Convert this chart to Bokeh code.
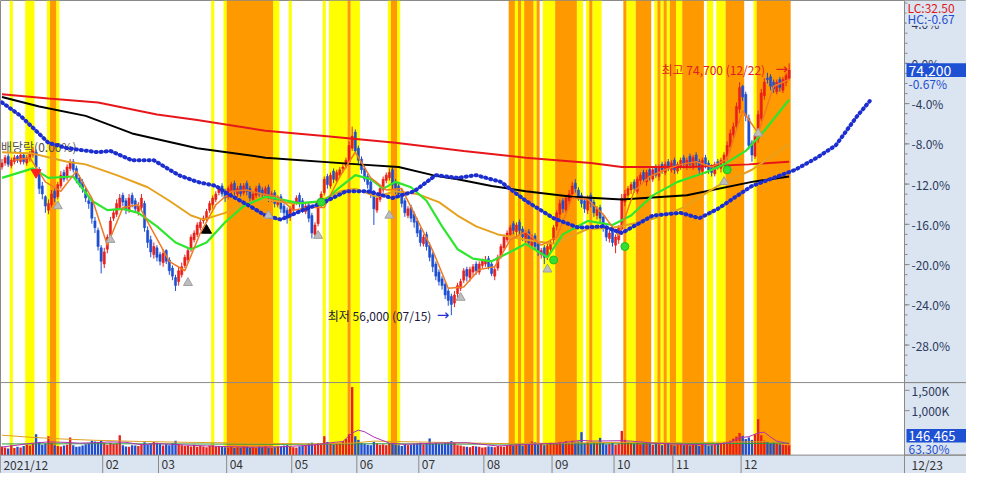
from bokeh.plotting import figure
from bokeh.models import Range1d, Span
from bokeh.core.properties import value
from bokeh.embed import file_html
from bokeh.resources import INLINE

FONT_NAME = "Noto Sans CJK KR"
FONT = value(FONT_NAME)

# ---------------- data (prices in thousand won, volume in thousand shares) ----------------
month_labels = ["2021/12", "02", "03", "04", "05", "06", "07", "08", "09", "10", "11", "12"]
month_first_day = [0, 33, 51, 73, 94, 115, 135, 156, 178, 198, 217, 239]

open_k = [
    67.0, 67.3, 67.8, 67.1, 67.4, 67.8, 67.4, 67.9, 67.3, 67.6,
    67.9, 68.1, 66.8, 65.6, 64.8, 63.8, 64.2, 65.2, 64.8, 65.6,
    66.6, 66.2, 66.9, 67.4, 66.9, 66.2, 65.9, 65.3, 64.5, 64.4,
    63.0, 62.3, 61.0, 59.8, 60.9, 61.9, 63.2, 63.5, 64.0, 64.9,
    64.5, 63.8, 64.9, 64.5, 63.7, 64.0, 64.3, 62.3, 61.6, 60.5,
    61.0, 60.5, 59.9, 60.8, 60.1, 59.5, 58.8, 58.5, 59.0, 59.7,
    60.1, 60.9, 61.6, 62.0, 62.5, 63.0, 63.1, 63.8, 64.2, 64.6,
    65.1, 65.6, 65.2, 64.8, 65.2, 65.8, 65.0, 65.6, 65.1, 65.8,
    65.4, 64.6, 64.9, 65.6, 65.3, 64.9, 65.5, 64.6, 65.1, 64.2,
    64.8, 64.1, 63.8, 63.3, 63.8, 64.4, 64.9, 64.5, 63.7, 64.2,
    63.4, 62.0, 62.8, 64.2, 65.1, 66.3, 65.6, 66.7, 66.0, 66.4,
    66.9, 67.1, 67.4, 68.4, 69.6, 68.4, 67.6, 66.9, 66.3, 65.9,
    65.1, 63.8, 64.6, 65.3, 66.0, 66.2, 66.8, 65.9, 65.6, 65.2,
    64.5, 63.4, 64.0, 63.5, 63.0, 62.3, 61.3, 62.0, 61.2, 60.5,
    59.8, 59.2, 58.7, 58.3, 57.8, 57.4, 56.9, 57.6, 58.0, 58.6,
    59.4, 58.8, 59.2, 59.8, 59.2, 59.7, 59.8, 60.2, 59.8, 58.9,
    59.5, 60.4, 61.0, 61.6, 62.0, 62.8, 62.2, 62.9, 62.4, 61.7,
    62.2, 61.2, 61.9, 61.3, 60.5, 61.0, 60.4, 60.9, 61.6, 62.6,
    63.5, 64.5, 63.8, 64.5, 65.0, 65.8, 65.3, 64.9, 64.5, 63.8,
    64.9, 64.4, 63.4, 64.0, 63.3, 62.6, 61.7, 62.3, 61.2, 61.6,
    62.4, 64.4, 64.9, 65.3, 65.9, 65.2, 66.0, 66.6, 65.9, 66.8,
    66.1, 67.0, 66.3, 67.2, 66.6, 67.4, 66.8, 67.5, 66.7, 67.0,
    67.7, 67.0, 67.8, 67.0, 67.9, 67.4, 66.7, 67.7, 67.3, 67.0,
    66.5, 67.4, 66.9, 67.3, 67.8, 68.5, 69.4, 70.0, 71.3, 73.0,
    72.4, 70.6, 68.8, 67.8, 69.1, 70.6, 72.3, 73.6, 73.7, 73.3,
    72.6, 73.5, 72.7, 73.3, 73.6,
]
high_k = [
    67.6, 67.9, 68.0, 67.7, 67.9, 67.9, 68.1, 68.0, 67.9, 68.2,
    68.5, 68.3, 67.0, 65.9, 64.9, 64.6, 65.3, 65.4, 65.9, 66.7,
    66.8, 67.2, 67.6, 67.6, 67.1, 66.4, 66.1, 65.5, 64.8, 64.6,
    63.3, 62.5, 61.2, 61.0, 62.0, 63.3, 63.9, 64.6, 65.0, 65.1,
    64.7, 65.0, 65.1, 64.7, 64.4, 65.0, 64.5, 62.6, 61.9, 61.4,
    61.2, 60.7, 60.9, 60.9, 60.3, 59.7, 59.0, 59.6, 59.9, 60.5,
    61.0, 62.0, 62.3, 62.9, 63.2, 63.4, 63.9, 64.5, 64.9, 65.2,
    65.6, 65.8, 65.4, 65.6, 65.9, 66.0, 65.6, 65.8, 65.8, 66.0,
    65.6, 65.2, 65.6, 65.8, 65.5, 65.6, 65.7, 65.2, 65.3, 64.9,
    65.0, 64.3, 64.0, 64.1, 64.5, 64.9, 65.1, 64.7, 64.3, 64.4,
    63.6, 62.9, 64.5, 65.2, 66.3, 66.5, 66.6, 66.9, 66.8, 67.0,
    67.2, 67.7, 68.9, 70.0, 69.8, 68.6, 67.8, 67.1, 66.5, 66.1,
    65.3, 64.9, 65.6, 66.3, 66.6, 66.9, 67.0, 66.1, 65.8, 65.4,
    64.7, 64.1, 64.2, 63.7, 63.2, 62.5, 62.0, 62.2, 61.4, 60.7,
    60.0, 59.4, 58.9, 58.5, 58.0, 57.6, 57.8, 58.4, 58.7, 59.5,
    59.6, 59.6, 59.8, 60.0, 60.0, 60.2, 60.4, 60.4, 60.0, 59.6,
    60.5, 61.3, 62.0, 62.3, 62.7, 63.0, 62.9, 63.1, 62.6, 62.3,
    62.4, 62.0, 62.1, 61.5, 61.0, 61.2, 61.3, 61.6, 62.7, 63.8,
    64.6, 64.7, 64.9, 65.3, 65.9, 66.1, 65.5, 65.1, 64.7, 64.9,
    65.1, 64.6, 64.1, 64.2, 63.5, 62.8, 62.3, 62.6, 62.0, 62.7,
    65.0, 65.3, 65.6, 65.9, 66.1, 66.3, 66.6, 66.8, 66.8, 67.0,
    67.0, 67.2, 67.2, 67.4, 67.4, 67.6, 67.5, 67.7, 67.4, 67.7,
    67.9, 67.7, 68.0, 67.9, 68.1, 67.6, 67.7, 67.9, 67.5, 67.2,
    67.4, 67.6, 67.7, 68.1, 68.9, 69.8, 70.3, 71.8, 73.3, 73.1,
    72.6, 70.9, 69.0, 69.5, 71.2, 72.8, 73.6, 74.0, 73.9, 73.5,
    73.5, 73.7, 73.7, 74.0, 74.7,
]
low_k = [
    66.8, 67.1, 67.0, 66.9, 67.2, 67.3, 67.2, 67.2, 67.1, 67.4,
    67.7, 66.8, 65.0, 64.6, 63.6, 63.5, 64.0, 64.4, 64.6, 65.4,
    65.9, 66.0, 66.7, 66.6, 65.8, 65.5, 65.1, 64.4, 63.9, 62.8,
    62.1, 60.8, 59.1, 59.5, 60.6, 61.6, 63.0, 63.3, 63.8, 64.1,
    63.5, 63.6, 64.0, 63.6, 63.4, 63.8, 62.2, 61.0, 60.3, 60.2,
    60.0, 59.7, 59.6, 59.8, 59.0, 58.6, 57.8, 58.2, 58.8, 59.5,
    59.9, 60.7, 61.4, 61.8, 62.3, 62.8, 62.9, 63.6, 63.9, 64.4,
    64.9, 64.8, 64.4, 64.6, 65.0, 64.9, 64.8, 64.8, 64.9, 64.9,
    64.4, 64.4, 64.7, 64.8, 64.7, 64.7, 64.4, 64.4, 64.0, 64.0,
    63.6, 63.3, 62.8, 63.0, 63.6, 64.2, 64.0, 63.6, 63.5, 62.9,
    61.7, 61.8, 62.6, 64.0, 64.9, 65.4, 65.4, 65.8, 65.8, 66.2,
    66.6, 66.9, 67.2, 68.2, 68.0, 67.2, 66.5, 65.9, 65.4, 64.7,
    62.7, 63.6, 64.4, 65.1, 65.8, 66.0, 65.3, 65.0, 64.7, 64.0,
    63.3, 63.2, 62.9, 62.5, 61.8, 61.1, 61.1, 60.8, 60.0, 59.2,
    58.6, 58.2, 57.9, 57.2, 56.7, 56.0, 56.6, 57.3, 57.8, 58.4,
    58.5, 58.5, 58.9, 59.0, 59.0, 59.5, 59.6, 59.4, 58.9, 58.6,
    59.3, 60.2, 60.8, 61.4, 61.8, 62.0, 61.9, 62.0, 61.5, 61.4,
    61.1, 61.0, 60.9, 60.4, 60.2, 59.8, 60.1, 60.6, 61.3, 62.3,
    63.2, 63.6, 63.6, 64.2, 64.7, 65.1, 64.5, 64.0, 63.6, 63.5,
    64.0, 63.3, 63.1, 62.9, 62.2, 61.5, 61.4, 61.1, 60.6, 61.3,
    62.2, 64.1, 64.7, 65.0, 65.1, 65.0, 65.7, 65.9, 65.6, 66.0,
    65.9, 66.2, 66.0, 66.5, 66.4, 66.7, 66.6, 66.5, 66.5, 66.8,
    66.9, 66.8, 66.9, 66.8, 67.0, 66.5, 66.4, 66.9, 66.5, 66.3,
    66.3, 66.8, 66.6, 67.1, 67.5, 68.2, 69.1, 69.8, 71.0, 71.9,
    70.4, 68.3, 67.4, 67.6, 68.8, 70.4, 72.0, 73.2, 72.7, 72.5,
    72.4, 72.6, 72.5, 73.0, 73.5,
]
close_k = [
    67.3, 67.7, 67.2, 67.5, 67.7, 67.5, 67.9, 67.4, 67.7, 68.0,
    68.2, 67.0, 65.4, 65.0, 64.1, 64.3, 65.0, 64.7, 65.7, 66.4,
    66.1, 67.0, 67.3, 66.8, 66.1, 65.7, 65.4, 64.7, 64.3, 63.2,
    62.5, 61.1, 60.0, 60.7, 61.8, 63.0, 63.6, 64.3, 64.7, 64.4,
    63.9, 64.7, 64.3, 63.9, 64.1, 64.7, 62.5, 61.4, 60.7, 61.1,
    60.3, 60.0, 60.6, 60.0, 59.3, 58.9, 58.2, 59.3, 59.6, 60.3,
    60.8, 61.8, 62.1, 62.7, 62.9, 63.2, 63.7, 64.3, 64.7, 65.0,
    65.4, 65.0, 64.7, 65.4, 65.7, 65.2, 65.4, 65.0, 65.6, 65.2,
    64.7, 65.0, 65.4, 65.0, 65.0, 65.4, 64.7, 65.0, 64.3, 64.7,
    63.9, 63.6, 63.2, 63.9, 64.3, 64.7, 64.3, 63.9, 64.1, 63.2,
    62.1, 62.7, 64.3, 65.0, 66.1, 65.7, 66.4, 66.1, 66.6, 66.8,
    67.0, 67.5, 68.6, 69.3, 68.2, 67.5, 66.8, 66.1, 65.7, 65.0,
    63.9, 64.7, 65.4, 66.1, 66.4, 66.6, 65.7, 65.4, 65.0, 64.3,
    63.6, 63.9, 63.2, 62.9, 62.1, 61.4, 61.8, 61.1, 60.3, 59.6,
    58.9, 58.5, 58.2, 57.5, 57.1, 56.8, 57.5, 58.2, 58.5, 59.3,
    58.9, 59.4, 59.6, 59.3, 59.8, 60.0, 60.1, 59.6, 59.1, 59.4,
    60.3, 61.1, 61.8, 62.1, 62.5, 62.3, 62.7, 62.3, 61.8, 62.1,
    61.4, 61.8, 61.1, 60.7, 60.8, 60.3, 61.1, 61.4, 62.5, 63.6,
    64.3, 63.9, 64.7, 65.0, 65.6, 65.4, 64.7, 64.3, 63.9, 64.7,
    64.3, 63.6, 63.9, 63.2, 62.5, 61.8, 62.1, 61.4, 61.8, 62.5,
    64.7, 65.0, 65.4, 65.7, 65.4, 66.1, 66.4, 66.1, 66.6, 66.3,
    66.8, 66.4, 67.0, 66.8, 67.2, 67.0, 67.3, 66.8, 67.2, 67.5,
    67.2, 67.5, 67.2, 67.7, 67.3, 66.8, 67.5, 67.2, 66.8, 66.6,
    67.2, 67.0, 67.5, 67.9, 68.6, 69.5, 70.0, 71.5, 72.9, 72.2,
    70.8, 68.6, 67.9, 69.3, 70.9, 72.5, 73.3, 73.5, 73.0, 72.8,
    73.3, 72.9, 73.5, 73.8, 74.2,
]
volume_k = [
    120, 90, 70, 150, 80, 110, 95, 130, 160, 140,
    180, 420, 230, 160, 190, 370, 210, 150, 130, 120,
    140, 160, 340, 150, 110, 120, 140, 170, 190, 260,
    240, 230, 270, 200, 160, 210, 180, 190, 395, 150,
    120, 110, 150, 140, 130, 170, 220, 160, 190, 230,
    210, 180, 140, 170, 150, 200, 260, 180, 150, 130,
    140, 120, 160, 110, 130, 120, 100, 140, 150, 120,
    130, 110, 100, 90, 110, 80, 100, 90, 120, 110,
    90, 100, 80, 110, 100, 120, 90, 80, 100, 110,
    120, 140, 150, 110, 100, 90, 120, 130, 150, 190,
    210, 160, 200, 180, 370, 230, 200, 170, 190, 210,
    250, 300, 420, 1580, 370, 280, 200, 180, 160, 150,
    230, 190, 160, 170, 150, 200, 180, 160, 150, 130,
    170, 150, 160, 180, 190, 210, 170, 200, 315, 180,
    210, 190, 180, 200, 230, 250, 210, 150, 140, 120,
    110, 100, 130, 120, 110, 90, 100, 120, 110, 100,
    130, 120, 110, 140, 150, 130, 160, 200, 140, 170,
    180, 240, 220, 160, 190, 150, 170, 210, 180, 200,
    230, 210, 250, 200, 260, 220, 240, 470, 200, 230,
    190, 220, 210, 330, 200, 170, 180, 200, 160, 190,
    500, 280, 230, 200, 190, 210, 170, 180, 200, 190,
    160, 180, 170, 150, 190, 200, 160, 140, 170, 180,
    150, 160, 140, 170, 150, 130, 160, 170, 140, 150,
    170, 190, 200, 220, 235, 260, 310, 360, 450, 380,
    300, 340, 280, 420, 790, 395, 260, 230, 200, 210,
    180, 170, 160, 150, 146.465,
]

# moving averages (day index, value)
ma5_day = list(range(4, 255, 5))
ma5 = [67.5, 67.7, 65.9, 65.2, 66.7, 64.7, 61.2, 64.0, 64.2, 62.1,
       60.0, 59.3, 62.1, 64.2, 65.2, 65.3, 65.0, 64.8, 63.8, 64.0,
       64.0, 66.3, 68.1, 66.2, 65.3, 65.4, 63.1, 60.8, 58.0, 58.1,
       59.4, 59.6, 61.6, 62.2, 61.2, 61.8, 64.7, 64.6, 63.5, 61.9,
       65.2, 66.3, 66.8, 67.2, 67.4, 67.0, 67.6, 71.2, 69.5, 73.0, 73.5]
ma20_day = [0, 10, 15, 23, 29, 34, 39, 44, 50, 56, 61, 66, 72, 78, 85, 90, 96, 104, 109, 114,
            119, 123, 127, 132, 137, 142, 147, 152, 158, 164, 169, 176, 181, 189, 197, 203, 210,
            218, 227, 233, 240, 246, 254]
ma20 = [66.2, 66.9, 66.2, 66.3, 64.5, 63.8, 63.9, 63.6, 62.6, 61.4, 60.9, 61.4, 62.9, 64.1, 64.8,
        64.6, 64.3, 64.5, 65.5, 66.4, 66.1, 65.4, 65.9, 65.5, 64.5, 62.6, 60.9, 60.2, 60.0, 60.7,
        61.3, 60.3, 62.0, 63.0, 62.7, 63.4, 64.9, 65.9, 66.6, 67.2, 68.2, 69.7, 72.0]
ma60_day = [0, 10, 21, 27, 37, 47, 54, 61, 65, 72, 78, 85, 94, 102, 109, 114, 121, 127, 134, 141,
            147, 153, 160, 169, 178, 189, 197, 208, 219, 231, 242, 254]
ma60 = [68.1, 68.0, 67.4, 67.2, 66.4, 65.5, 64.5, 63.4, 63.1, 63.6, 64.3, 64.6, 64.3, 64.4, 65.2,
        65.4, 64.8, 65.2, 65.0, 64.4, 63.4, 62.6, 62.0, 61.6, 61.3, 62.4, 62.5, 63.0, 63.9, 65.6,
        66.8, 68.7]
ma120_day = [0, 12, 27, 42, 63, 85, 115, 128, 139, 147, 158, 169, 184, 200, 221, 242, 254]
ma120 = [72.2, 71.5, 70.8, 69.5, 68.4, 67.7, 67.2, 67.0, 66.4, 66.1, 65.6, 65.2, 64.8, 64.6, 64.9,
         65.9, 66.3]
ma240_day = [0, 15, 31, 50, 63, 85, 104, 127, 149, 169, 190, 200, 222, 241, 254]
ma240 = [72.4, 72.1, 71.8, 70.9, 70.5, 69.7, 69.3, 68.8, 68.2, 67.7, 67.3, 67.0, 67.0, 67.2, 67.4]
lead_day = [0, 6, 15, 21, 31, 35, 42, 49, 57, 63, 69, 73, 80, 85, 90, 97, 104, 111, 118, 126,
            133, 140, 147, 153, 161, 169, 178, 186, 194, 200, 210, 219, 225, 231, 242, 256, 263,
            269, 276, 280]
lead = [71.8, 70.8, 68.8, 68.4, 68.1, 68.2, 67.5, 67.5, 66.4, 65.9, 65.6, 65.0, 64.1, 63.4, 63.1,
        63.8, 64.4, 65.2, 65.2, 64.7, 65.2, 66.4, 66.2, 66.4, 65.9, 64.5, 63.2, 62.5, 62.6, 62.1,
        63.4, 63.6, 63.2, 63.9, 65.6, 66.8, 67.7, 68.6, 70.8, 71.9]

vma_green_day = [0, 30, 60, 90, 120, 150, 180, 210, 240, 254]
vma_green = [180, 185, 180, 170, 185, 175, 180, 185, 190, 200]
vma_gold_day = [0, 10, 20, 30, 45, 60, 80, 100, 113, 120, 140, 160, 180, 200, 220, 240, 254]
vma_gold = [395, 340, 300, 270, 240, 220, 200, 180, 200, 250, 220, 190, 200, 220, 210, 230, 240]
vma_purple_day = [0, 5, 10, 15, 20, 25, 30, 35, 40, 45, 50, 55, 60, 70, 80, 90, 100, 105, 110,
                  113, 115, 117, 120, 125, 130, 140, 150, 160, 170, 180, 187, 190, 200, 203, 210,
                  220, 230, 235, 238, 241, 244, 246, 248, 250, 254]
vma_purple = [105, 150, 200, 230, 220, 200, 210, 230, 220, 160, 190, 170, 150, 120, 100, 110, 150,
              200, 240, 450, 520, 480, 350, 200, 170, 200, 210, 130, 170, 200, 270, 250, 260, 250,
              200, 170, 160, 220, 330, 360, 450, 470, 350, 250, 180]

# highlighted trading days (first day, last day)
yellow_from = [3, 8, 15, 18, 68, 72, 88, 93, 104, 106, 113, 125, 128, 166, 168, 172, 175, 186,
               189, 191, 202, 211, 213, 215, 218, 228, 231, 243]
yellow_to = [3, 10, 15, 18, 68, 72, 89, 93, 104, 111, 115, 125, 128, 166, 168, 172, 178, 187,
             189, 193, 204, 211, 213, 215, 219, 229, 233, 243]
orange_from = [16, 73, 112, 126, 164, 167, 169, 173, 179, 190, 201, 205, 212, 214, 216, 220, 234, 244]
orange_to = [17, 87, 112, 127, 165, 167, 171, 173, 185, 190, 201, 209, 212, 214, 217, 226, 239, 254]

# signal marks (day index, price)
sig_gray_day = [18, 35, 60, 86, 102, 125, 148, 176, 233, 244]
sig_gray_price = [64.1, 61.6, 58.4, 63.4, 61.9, 63.4, 57.3, 59.4, 65.9, 69.5]
sig_black_day = [66]
sig_black_price = [62.3]
sig_red_day = [11]
sig_red_price = [66.6]
sig_green_day = [103, 178, 201, 234]
sig_green_price = [64.4, 60.1, 61.1, 66.8]

pct_ticks = [4, 0, -4, -8, -12, -16, -20, -24, -28]
vol_ticks_k = [1500, 1000]
vol_tick_labels = ["1,500K", "1,000K"]
last_date_label = "12/23"
lc_text, hc_text = "LC:32.50", "HC:-0.67"
last_volume_text, vol_ratio_text = "146,465", "63.30%"

# ---------------- layout ----------------
W, H = 966, 473
RIGHT = 62
FW = W - RIGHT
REF_H = 489.0
DAY_PX = 3.099
X0 = -0.48
X_AX = X0 + FW / DAY_PX        # day value at the right-axis line
X_END = X0 + W / DAY_PX
TICK5 = 5 / DAY_PX
TICK3 = 3 / DAY_PX
PAD2 = 2 / DAY_PX

ref_high = max(high_k)
ZERO_Y, PCT_PX = 65.0, 10.4


def price_at(yref):
    return ref_high * (1 - (yref - ZERO_Y) / PCT_PX / 100.0)


VOL_ZERO_Y, VOL_PX = 466.0, 0.042


def vol_at(yref):
    return (VOL_ZERO_Y - yref) / VOL_PX


P_TOP, P_BOT = price_at(0), price_at(REF_H)
V_TOP, V_BOT = vol_at(0), vol_at(REF_H)


def vol_as_price(vk):
    return P_BOT + (vk - V_BOT) / (V_TOP - V_BOT) * (P_TOP - P_BOT)


PANEL_Y, STRIP_Y = 395, 470
AXIS_BG = "#dbe4f1"
GRID = "#8a8a8a"
UP, DOWN = "#e8201c", "#1f4fd0"
BOX = "#1e50d4"

p = figure(width=W, height=H, output_backend="svg", toolbar_location=None,
           x_range=Range1d(X0, X_END), y_range=Range1d(P_BOT, P_TOP),
           x_axis_location=None, y_axis_location=None,
           min_border_left=0, min_border_right=0, min_border_top=0, min_border_bottom=0)
p.extra_y_ranges = {"vol": Range1d(V_BOT, V_TOP)}
p.background_fill_color = "white"
p.border_fill_color = AXIS_BG
p.outline_line_color = GRID
p.grid.grid_line_color = None

band_bot = price_at(STRIP_Y)
p.quad(left=[d - 0.5 for d in yellow_from], right=[d + 0.5 for d in yellow_to],
       bottom=band_bot, top=P_TOP, fill_color="#ffff00", line_color=None)
p.quad(left=[d - 0.5 for d in orange_from], right=[d + 0.5 for d in orange_to],
       bottom=band_bot, top=P_TOP, fill_color="#ff9900", line_color=None)

# date strip and right axis panel
p.quad(left=[X0], right=[X_AX], bottom=[P_BOT], top=[band_bot], fill_color=AXIS_BG, line_color=None)
p.quad(left=[X_AX], right=[X_END], bottom=[P_BOT], top=[P_TOP], fill_color=AXIS_BG, line_color=None)
sep_x = [d - 0.5 for d in month_first_day[1:]]
p.segment(x0=sep_x, x1=sep_x, y0=P_BOT, y1=band_bot, line_color=GRID, line_width=1)
p.text(x=[d - 0.5 for d in month_first_day], y=price_at(480), text=month_labels, x_offset=3,
       text_align="left", text_baseline="middle", text_font=FONT,
       text_font_size="12px", text_color="#333333")
p.add_layout(Span(location=price_at(PANEL_Y), dimension="width", line_color=GRID, line_width=1))
p.add_layout(Span(location=band_bot, dimension="width", line_color=GRID, line_width=1))
p.add_layout(Span(location=X_AX, dimension="height", line_color=GRID, line_width=1))

n = min(len(open_k), len(high_k), len(low_k), len(close_k), len(volume_k))
days = list(range(n))
o, h, l, c, vol = open_k[:n], high_k[:n], low_k[:n], close_k[:n], volume_k[:n]
cols = [UP if b >= a else DOWN for a, b in zip(o, c)]

# volume
p.vbar(x=days, top=vol, bottom=vol_at(STRIP_Y), width=0.76, fill_color=cols, line_color=None,
       y_range_name="vol")
p.line(vma_green_day, vma_green, line_color="#2e9e3e", line_width=1, y_range_name="vol")
p.line(vma_gold_day, vma_gold, line_color="#e0a020", line_width=1, y_range_name="vol")
p.line(vma_purple_day, vma_purple, line_color="#b030b0", line_width=1, y_range_name="vol")

# ex-dividend note
p.text(x=[0], y=[high_k[0]], text=["배당락(0.00%)"], x_offset=-1, y_offset=-12,
       text_align="left", text_baseline="middle", text_font=FONT,
       text_font_size="12px", text_color="#505050")

# candles
body_top = [max(a, b) for a, b in zip(o, c)]
body_bot = [min(a, b) for a, b in zip(o, c)]
p.segment(x0=days, y0=l, x1=days, y1=h, line_color=cols, line_width=1)
p.vbar(x=days, top=body_top, bottom=body_bot, width=0.72, fill_color=cols, line_color=cols,
       line_width=0.5)

# moving averages
p.line(ma240_day, ma240, line_color="#e8161a", line_width=2)
p.line(ma120_day, ma120, line_color="#000000", line_width=2)
p.line(ma60_day, ma60, line_color="#e6a21e", line_width=2)
p.line(ma20_day, ma20, line_color="#2ee62e", line_width=2.2)
p.line(ma5_day, ma5, line_color="#f07a22", line_width=1.5)
p.line(lead_day, lead, line_color="#1c2ed0", line_width=4, line_dash="1 4", line_cap="round")

# signals
p.scatter(sig_gray_day, sig_gray_price, marker="triangle", size=9, fill_color="#bdbdbd",
          line_color="#a0a0a0")
p.scatter(sig_black_day, sig_black_price, marker="triangle", size=10, fill_color="#000000",
          line_color="#000000")
p.scatter(sig_red_day, sig_red_price, marker="inverted_triangle", size=10, fill_color="#ff2020",
          line_color="#ff2020")
p.scatter(sig_green_day, sig_green_price, marker="circle", size=8, fill_color="#33dd33",
          line_color="#22bb22")

# high / low notes
i_hi = max(range(n), key=lambda i: h[i])
i_lo = min(range(n), key=lambda i: l[i])
p.text(x=[i_hi], y=[h[i_hi]], text=[f"최고 {round(h[i_hi] * 1000):,} (12/22)"], x_offset=-24,
       y_offset=6, text_align="right", text_baseline="middle", text_font=FONT,
       text_font_size="12px", text_color="#e02020")
p.text(x=[i_hi], y=[h[i_hi]], text=["→"], x_offset=-1, y_offset=6, text_align="right",
       text_baseline="middle", text_font=value("DejaVu Sans"), text_font_size="15px",
       text_color="#e02020")
p.text(x=[i_lo], y=[l[i_lo]], text=[f"최저 {round(l[i_lo] * 1000):,} (07/15)"], x_offset=-20,
       text_align="right", text_baseline="middle", text_font=FONT,
       text_font_size="12px", text_color="#1a1a40")
p.text(x=[i_lo], y=[l[i_lo]], text=["→"], x_offset=-2, text_align="right",
       text_baseline="middle", text_font=value("DejaVu Sans"), text_font_size="15px",
       text_color="#1f2fd0")

# right axis: percent from the high, plus volume ticks
tick_vals = [ref_high * (1 + t / 100.0) for t in pct_ticks]
tick_text = [f"{t:.1f}%" for t in pct_ticks]
vol_tick_vals = [vol_as_price(vk) for vk in vol_ticks_k]
minor_vals = [ref_high * (1 + t / 100.0) for t in range(6, -32, -1)]
all_major = tick_vals + vol_tick_vals
p.segment(x0=X_AX, x1=X_AX + TICK3, y0=minor_vals, y1=minor_vals, line_color=GRID, line_width=1)
p.segment(x0=X_AX, x1=X_AX + TICK5, y0=all_major, y1=all_major, line_color=GRID, line_width=1)
p.text(x=X_AX, y=all_major, text=tick_text + vol_tick_labels, x_offset=7, text_align="left",
       text_baseline="middle", text_font=FONT, text_font_size="12px", text_color="#2b3a5c")

# right panel separators
p.segment(x0=X_AX, x1=X_END, y0=[price_at(PANEL_Y), band_bot], y1=[price_at(PANEL_Y), band_bot],
          line_color=GRID, line_width=1)

# status texts and value boxes on the right panel
p.quad(left=[X_AX + PAD2], right=[X_END], bottom=[price_at(26)], top=[price_at(12)],
       fill_color=AXIS_BG, line_color=None)
p.text(x=X_AX, y=[price_at(7), price_at(19)], text=[lc_text, hc_text], x_offset=3,
       text_align="left", text_baseline="middle", text_font=FONT, text_font_size="12px",
       text_color=["#e01818", "#1f4fd0"])

last_close = c[-1]
box_half = (price_at(66) - price_at(80)) / 2
p.quad(left=[X_AX + PAD2], right=[X_END], bottom=[last_close - box_half],
       top=[last_close + box_half], fill_color=BOX, line_color=None)
p.text(x=X_AX, y=[last_close], text=[f"{round(last_close * 1000):,}"], x_offset=4,
       text_align="left", text_baseline="middle", text_font=FONT, text_font_size="14px",
       text_color="#ffffff")
chg = (last_close / ref_high - 1) * 100
p.text(x=X_AX, y=[last_close - 2 * box_half], text=[f"{chg:.2f}%"], x_offset=4,
       text_align="left", text_baseline="middle", text_font=FONT, text_font_size="12px",
       text_color="#1f4fd0")

p.quad(left=[X_AX + PAD2], right=[X_END], bottom=[price_at(457)], top=[price_at(443)],
       fill_color=BOX, line_color=None)
p.text(x=X_AX, y=[price_at(450)], text=[last_volume_text], x_offset=4, text_align="left",
       text_baseline="middle", text_font=FONT, text_font_size="13px", text_color="#ffffff")
p.text(x=X_AX, y=[price_at(463)], text=[vol_ratio_text], x_offset=4, text_align="left",
       text_baseline="middle", text_font=FONT, text_font_size="12px", text_color="#1f4fd0")
p.text(x=X_AX, y=[price_at(480)], text=[last_date_label], x_offset=7, text_align="left",
       text_baseline="middle", text_font=FONT, text_font_size="12px", text_color="#333333")

open("out.html", "w").write(file_html(p, INLINE))
